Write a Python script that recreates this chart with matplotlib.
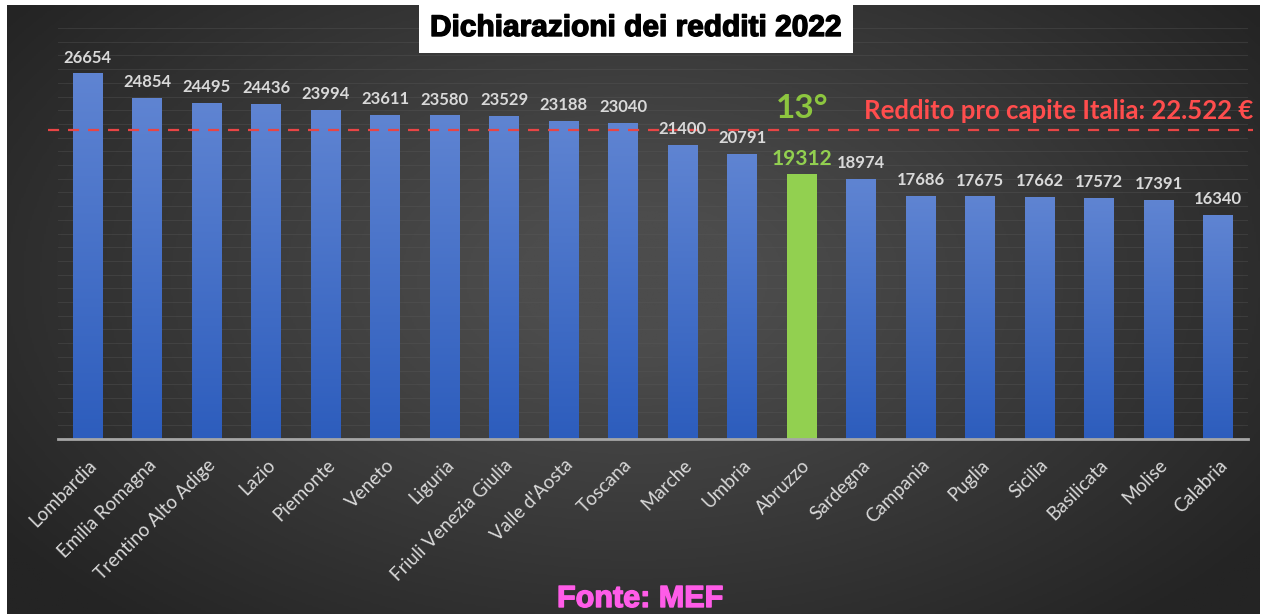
import numpy as np
import matplotlib.pyplot as plt
import matplotlib.patheffects as pe
from matplotlib.colors import LinearSegmentedColormap

regioni = ['Lombardia', 'Emilia Romagna', 'Trentino Alto Adige', 'Lazio', 'Piemonte',
           'Veneto', 'Liguria', 'Friuli Venezia Giulia', "Valle d'Aosta", 'Toscana',
           'Marche', 'Umbria', 'Abruzzo', 'Sardegna', 'Campania', 'Puglia', 'Sicilia',
           'Basilicata', 'Molise', 'Calabria']
redditi = [26654, 24854, 24495, 24436, 23994, 23611, 23580, 23529, 23188, 23040,
           21400, 20791, 19312, 18974, 17686, 17675, 17662, 17572, 17391, 16340]
media_italia = 22522
evidenziata = 'Abruzzo'

W, H = 1263, 614
fig = plt.figure(figsize=(W / 100, H / 100), dpi=100)
fig.patch.set_facecolor('white')

# background gradient (dark edges, lighter centre)
bg = fig.add_axes([7 / W, 0, 1 - 10 / W, 1 - 5 / H])
yy, xx = np.mgrid[0:1:300j, 0:1:600j]
d = np.sqrt(((xx - 0.5) / 0.62) ** 2 + ((yy - 0.45) / 0.75) ** 2)
shade = np.clip(1 - d, 0, 1)
bg_cmap = LinearSegmentedColormap.from_list('bg', ['#242424', '#4c4c4c'])
bg.imshow(shade, cmap=bg_cmap, aspect='auto', extent=[0, 1, 0, 1], vmin=0, vmax=0.85)
bg.axis('off')

ax = fig.add_axes([58 / W, (H - 439) / H, 1190 / W, 411 / H])
ax.set_facecolor('none')
x = np.arange(len(regioni))

bar_cmap = LinearSegmentedColormap.from_list('bar', ['#2d5dbd', '#5f84d2'])
grad = np.linspace(0, 1, 200).reshape(-1, 1)
for i, (reg, v) in enumerate(zip(regioni, redditi)):
    if reg == evidenziata:
        ax.bar(i, v, width=0.5, color='#92d050', zorder=3)
        ax.annotate(f'{v}', (i, v), xytext=(0, 4), textcoords='offset points',
                    ha='center', va='bottom', color='#92d050', fontsize=15,
                    fontweight='bold', family='Lato', zorder=5)
    else:
        ax.imshow(grad, cmap=bar_cmap, origin='lower', aspect='auto',
                  extent=[i - 0.25, i + 0.25, 0, v], zorder=3)
        ax.annotate(f'{v}', (i, v), xytext=(0, 6), textcoords='offset points',
                    ha='center', va='bottom', color='#d9d9d9', fontsize=12,
                    fontweight='bold', family='Lato', zorder=5)

ax.set_xlim(-0.5, len(regioni) - 0.5)
ax.set_ylim(0, 30000)
ax.set_yticks(np.arange(1000, 30001, 1000))
ax.yaxis.grid(True, color='#5a5a5a', linewidth=0.8, alpha=0.35, zorder=0)
ax.tick_params(axis='y', left=False, labelleft=False)
ax.tick_params(axis='x', bottom=False, pad=9)
ax.set_xticks(x)
ax.set_xticklabels(regioni, rotation=45, ha='right', rotation_mode='anchor',
                   color='#d9d9d9', fontsize=13.5, family='Lato')
for s in ['top', 'right', 'left']:
    ax.spines[s].set_visible(False)
ax.spines['bottom'].set_color('#a6a6a6')
ax.spines['bottom'].set_linewidth(2)
ax.spines['bottom'].set_zorder(4)

# national average line
ax.axhline(media_italia, xmin=-10 / 1190, xmax=1.004, color='#e84545',
           linestyle=(0, (5, 4)), linewidth=1.6, zorder=4, clip_on=False)
ax.text(len(regioni) - 0.42, media_italia + 550, 'Reddito pro capite Italia: 22.522 €',
        ha='right', va='bottom', color='#ff4d4d', fontsize=18.5, fontweight='bold',
        family='Lato')
rank = regioni.index(evidenziata) + 1
ax.text(rank - 1, media_italia + 550, f'{rank}°', ha='center', va='bottom',
        color='#8dc63f', fontsize=24, fontweight='bold', family='Lato')

fig.text(636 / W, 1 - 28 / H, 'Dichiarazioni dei redditi 2022', ha='center', va='center',
         fontsize=21.5, fontweight='bold', family='Liberation Sans', color='black',
         path_effects=[pe.withStroke(linewidth=1, foreground='black')],
         bbox=dict(facecolor='white', edgecolor='none', pad=8))
fig.text(640 / W, 1 - 599 / H, 'Fonte: MEF', ha='center', va='center', fontsize=22,
         fontweight='bold', family='Liberation Sans', color='#ff5ce8',
         path_effects=[pe.withStroke(linewidth=1, foreground='#ff5ce8')])

fig.savefig('out.png', dpi=100)
